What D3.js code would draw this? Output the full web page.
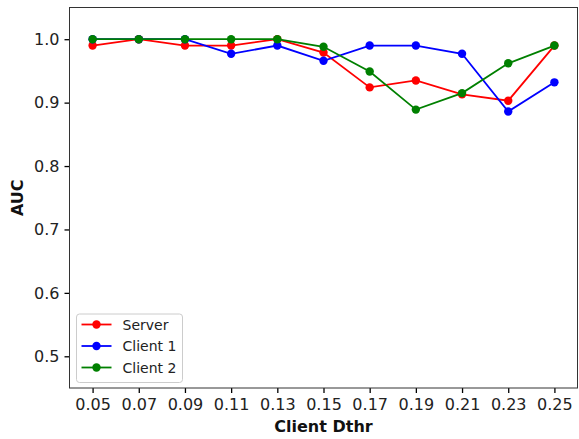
<!DOCTYPE html>
<html>
<head>
<meta charset="utf-8">
<script src="https://cdn.jsdelivr.net/npm/d3@7"></script>
<style>
  html, body { margin: 0; padding: 0; background: #fff; }
  svg { display: block; font-family: "DejaVu Sans", sans-serif; }
</style>
</head>
<body>
<svg id="chart" width="579" height="439"></svg>
<script>
const thresholds = [0.05, 0.07, 0.09, 0.11, 0.13, 0.15, 0.17, 0.19, 0.21, 0.23, 0.25];
const serverAUC  = [0.990, 1.000, 0.990, 0.990, 1.000, 0.979, 0.924, 0.935, 0.913, 0.903, 0.990];
const client1AUC = [1.000, 1.000, 1.000, 0.977, 0.990, 0.966, 0.990, 0.990, 0.977, 0.886, 0.932];
const client2AUC = [1.000, 1.000, 1.000, 1.000, 1.000, 0.988, 0.949, 0.889, 0.915, 0.962, 0.990];
const seriesNames = ["Server", "Client 1", "Client 2"];
const seriesColors = ["#ff0000", "#0000ff", "#008000"];
const yTicks = [0.5, 0.6, 0.7, 0.8, 0.9, 1.0];

const series = [serverAUC, client1AUC, client2AUC].map((vals, i) => ({
  name: seriesNames[i], color: seriesColors[i],
  points: vals.map((v, j) => ({ x: thresholds[j], y: v }))
}));

const svg = d3.select("#chart");
const L = 69.5, R = 577.5, T = 7.5, B = 388;

const x = d3.scaleLinear().domain([0.04, 0.26]).range([L, R]);
const y = d3.scaleLinear().domain([0.45, 1.05]).range([B, T]);

// axes
const xAxis = svg.append("g").attr("transform", `translate(0,${B})`)
  .call(d3.axisBottom(x).tickValues(thresholds).tickFormat(d3.format(".2f")).tickSize(5).tickPadding(5));
const yAxis = svg.append("g").attr("transform", `translate(${L},0)`)
  .call(d3.axisLeft(y).tickValues(yTicks).tickFormat(d3.format(".1f")).tickSize(5).tickPadding(5));
[xAxis, yAxis].forEach(g => {
  g.select(".domain").remove();
  g.selectAll(".tick line").attr("stroke", "#000").attr("stroke-width", 1.3);
  g.selectAll(".tick text").attr("fill", "#222").style("font-size", "16px")
   .style("font-family", "'DejaVu Sans', sans-serif");
});
xAxis.selectAll(".tick text").attr("dy", "0.72em");

// frame
svg.append("rect").attr("x", L).attr("y", T).attr("width", R - L).attr("height", B - T)
  .attr("fill", "none").attr("stroke", "#333").attr("stroke-width", 1);

// lines & markers
const line = d3.line().x(d => x(d.x)).y(d => y(d.y));
series.forEach(s => {
  const g = svg.append("g");
  g.append("path").datum(s.points).attr("d", line)
    .attr("fill", "none").attr("stroke", s.color).attr("stroke-width", 1.8);
  g.selectAll("circle").data(s.points).join("circle")
    .attr("cx", d => x(d.x)).attr("cy", d => y(d.y)).attr("r", 4.2)
    .attr("fill", s.color);
});

// axis titles
svg.append("text").attr("x", (L + R) / 2).attr("y", 431.5)
  .attr("text-anchor", "middle").style("font-size", "16px").style("font-weight", "bold")
  .attr("fill", "#111").text("Client Dthr");
svg.append("text").attr("transform", `translate(23,${(T + B) / 2}) rotate(-90)`)
  .attr("text-anchor", "middle").style("font-size", "16px").style("font-weight", "bold")
  .attr("fill", "#111").text("AUC");

// legend
const lg = svg.append("g");
lg.append("rect").attr("x", 76.5).attr("y", 314).attr("width", 106).attr("height", 68.5)
  .attr("rx", 3).attr("fill", "#fff").attr("fill-opacity", 0.8)
  .attr("stroke", "#ccc").attr("stroke-width", 1);
series.forEach((s, i) => {
  const cy = 324.5 + i * 21.5;
  lg.append("line").attr("x1", 81.5).attr("x2", 111.5).attr("y1", cy).attr("y2", cy)
    .attr("stroke", s.color).attr("stroke-width", 1.8);
  lg.append("circle").attr("cx", 96.5).attr("cy", cy).attr("r", 4.2).attr("fill", s.color);
  lg.append("text").attr("x", 122.5).attr("y", cy).attr("dy", "0.36em")
    .style("font-size", "14px").attr("fill", "#222").text(s.name);
});
</script>
</body>
</html>
